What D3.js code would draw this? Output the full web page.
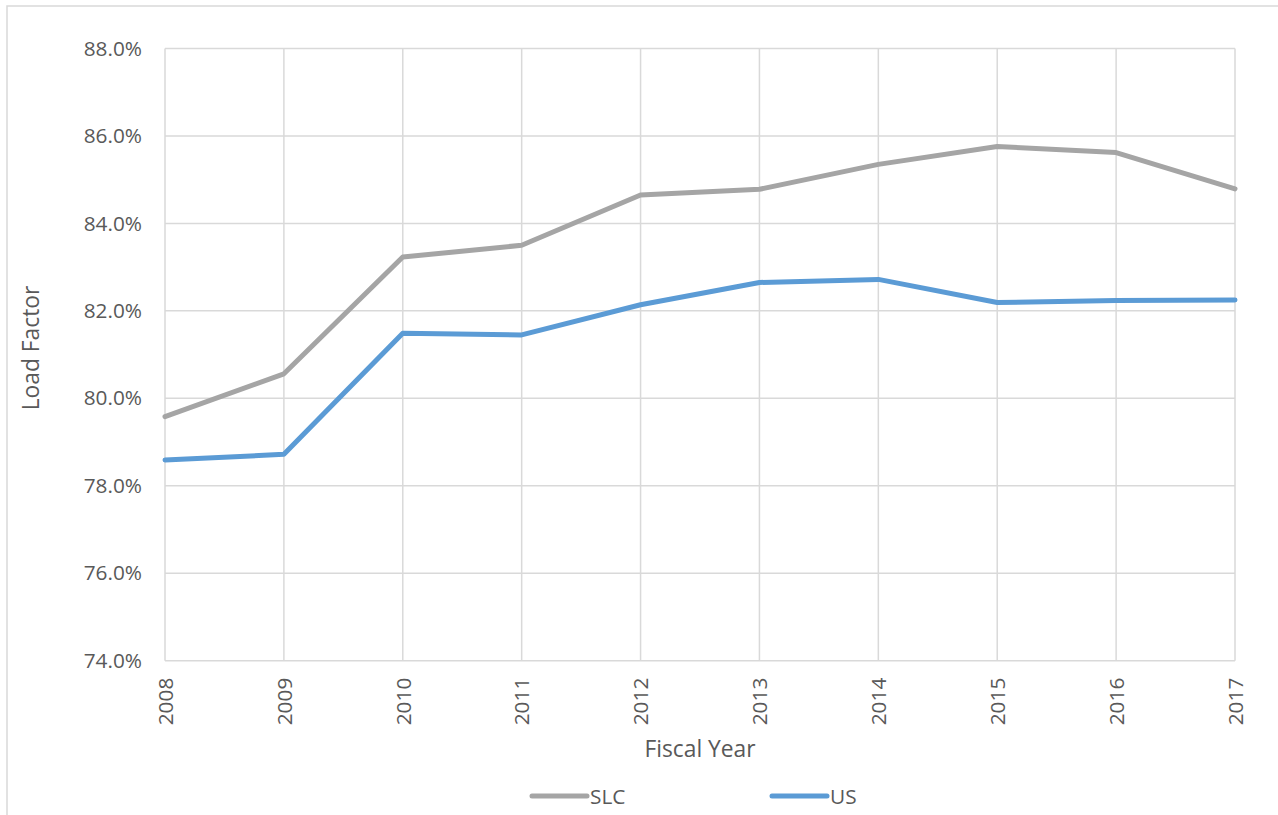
<!DOCTYPE html>
<html>
<head>
<meta charset="utf-8">
<script src="https://cdn.jsdelivr.net/npm/d3@7"></script>
<style>
  html, body { margin: 0; padding: 0; background: #fff; }
  svg { display: block; }
  text { font-family: "Open Sans", "Noto Sans", sans-serif; fill: #595959; }
</style>
</head>
<body>
<svg id="chart" width="1278" height="815"></svg>
<script>
// Fiscal years on the x axis
const years = [2008, 2009, 2010, 2011, 2012, 2013, 2014, 2015, 2016, 2017];
// Load factor (%) by fiscal year
const slcValues = [79.58, 80.56, 83.23, 83.50, 84.65, 84.78, 85.35, 85.76, 85.62, 84.79];
const usValues  = [78.59, 78.72, 81.49, 81.45, 82.14, 82.65, 82.72, 82.19, 82.24, 82.25];
// Y axis ticks
const yTicks = [74, 76, 78, 80, 82, 84, 86, 88];

const seriesList = [
  { name: "SLC", values: slcValues, color: "#A5A5A5" },
  { name: "US",  values: usValues,  color: "#5B9BD5" }
];

const svg = d3.select("#chart");
const grid = "#D9D9D9";

// chart area frame
svg.append("rect")
  .attr("x", 7).attr("y", 6)
  .attr("width", 1290).attr("height", 830)
  .attr("fill", "none").attr("stroke", grid).attr("stroke-width", 1.5);

const x = d3.scalePoint().domain(years).range([165, 1235]);
const y = d3.scaleLinear().domain([74, 88]).range([660.7, 48.5]);

// horizontal gridlines
svg.append("g").selectAll("line").data(yTicks).join("line")
  .attr("x1", 165).attr("x2", 1235)
  .attr("y1", d => y(d)).attr("y2", d => y(d))
  .attr("stroke", grid).attr("stroke-width", 1.5);

// vertical gridlines
svg.append("g").selectAll("line").data(years).join("line")
  .attr("x1", d => x(d)).attr("x2", d => x(d))
  .attr("y1", y(88)).attr("y2", y(74))
  .attr("stroke", grid).attr("stroke-width", 1.5);

// y axis tick labels
const yAxis = svg.append("g").attr("transform", "translate(165,0)")
  .call(d3.axisLeft(y).tickValues(yTicks).tickFormat(d => d.toFixed(1) + "%").tickSize(0).tickPadding(23));
yAxis.select(".domain").remove();
yAxis.selectAll("text").attr("font-size", 20.8).style("font-family", "'Open Sans', sans-serif").attr("fill", "#595959");

// x axis tick labels, rotated
const xAxis = svg.append("g").attr("transform", `translate(0,${y(74)})`)
  .call(d3.axisBottom(x).tickSize(0).tickFormat(d3.format("d")));
xAxis.select(".domain").remove();
xAxis.selectAll("text")
  .attr("font-size", 20.8).style("font-family", "'Open Sans', sans-serif").attr("fill", "#595959")
  .attr("text-anchor", "end")
  .attr("transform", "rotate(-90)")
  .attr("x", -17).attr("y", 0).attr("dy", "0.35em");

// series lines
const line = d3.line().x((d, i) => x(years[i])).y(d => y(d));
svg.append("g").selectAll("path").data(seriesList).join("path")
  .attr("d", s => line(s.values))
  .attr("fill", "none")
  .attr("stroke", s => s.color)
  .attr("stroke-width", 5)
  .attr("stroke-linejoin", "round")
  .attr("stroke-linecap", "round");

// axis titles
svg.append("text")
  .attr("x", 700).attr("y", 757)
  .attr("text-anchor", "middle").attr("font-size", 22.8)
  .text("Fiscal Year");

svg.append("text")
  .attr("transform", "translate(39,348) rotate(-90)")
  .attr("text-anchor", "middle").attr("font-size", 22.8)
  .text("Load Factor");

// legend
const legendX = [532, 772];
const legend = svg.append("g").selectAll("g").data(seriesList).join("g")
  .attr("transform", (d, i) => `translate(${legendX[i]},796)`);
legend.append("line")
  .attr("x1", 0).attr("x2", 55).attr("y1", 0).attr("y2", 0)
  .attr("stroke", d => d.color).attr("stroke-width", 5).attr("stroke-linecap", "round");
legend.append("text")
  .attr("x", 58).attr("y", 0).attr("dy", "0.36em")
  .attr("font-size", 20.8)
  .text(d => d.name);
</script>
</body>
</html>
